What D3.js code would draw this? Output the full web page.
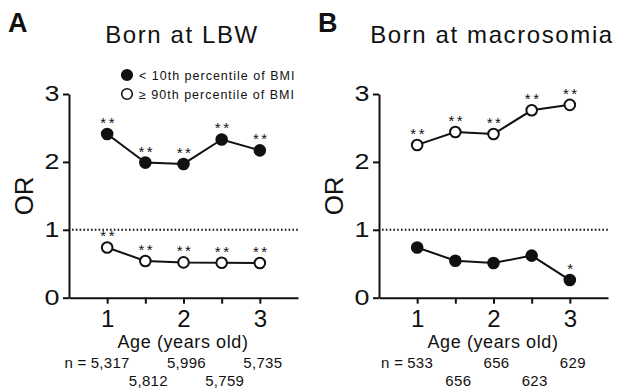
<!DOCTYPE html>
<html>
<head>
<meta charset="utf-8">
<script src="https://cdn.jsdelivr.net/npm/d3@7"></script>
<style>
  body { margin: 0; background: #fff; }
  text { font-family: "Liberation Sans", Arial, sans-serif; fill: #111; }
</style>
</head>
<body>
<svg id="area" width="619" height="389"></svg>
<script>
const ages = [1, 1.5, 2, 2.5, 3];
const ageTicks = [1, 2, 3];
const orTicks = [0, 1, 2, 3];

const lbwLow = [2.41, 1.99, 1.97, 2.33, 2.17];
const lbwHigh = [0.74, 0.54, 0.52, 0.515, 0.51];
const lbwLowSig = ['**', '**', '**', '**', '**'];
const lbwHighSig = ['**', '**', '**', '**', '**'];
const lbwN = ['5,317', '5,812', '5,996', '5,759', '5,735'];

const macroLow = [0.74, 0.545, 0.51, 0.62, 0.26];
const macroHigh = [2.25, 2.44, 2.41, 2.76, 2.84];
const macroLowSig = ['', '', '', '', '*'];
const macroHighSig = ['**', '**', '**', '**', '**'];
const macroN = ['533', '656', '656', '623', '629'];

const legendLabels = ['< 10th percentile of BMI', '\u2265 90th percentile of BMI'];

const svg = d3.select('#area');

function panel(offset, letter, title, low, high, lowSig, highSig, nLabels) {
  const g = svg.append('g').attr('transform', `translate(${offset}, 0)`);
  const x = d3.scaleLinear().domain([0.5, 3.5]).range([69, 298]);
  const y = d3.scaleLinear().domain([0, 3]).range([297.7, 94]);

  g.append('text')
    .attr('x', 8).attr('y', 32)
    .style('font-size', '27px').style('font-weight', 'bold')
    .text(letter);
  g.append('text')
    .attr('x', 182).attr('y', 43)
    .attr('text-anchor', 'middle')
    .style('font-size', '24px').style('letter-spacing', '1.6px')
    .text(title);

  // y axis
  const yAxis = g.append('g')
    .attr('transform', `translate(${x(0.5)}, 0)`)
    .call(d3.axisLeft(y).tickValues(orTicks).tickFormat(d3.format('d'))
      .tickSize(6).tickSizeOuter(0));
  yAxis.selectAll('text')
    .attr('font-family', null)
    .attr('x', -9.5 / 1.25)
    .attr('transform', 'scale(1.25,1)')
    .style('font-size', '21.5px');

  // x axis
  const xAxis = g.append('g')
    .attr('transform', `translate(0, ${y(0)})`)
    .call(d3.axisBottom(x).tickValues(ages).tickSize(6).tickSizeOuter(0)
      .tickFormat((d) => (ageTicks.includes(d) ? d : '')).tickPadding(6));
  xAxis.selectAll('text').style('font-size', '24px').attr('font-family', null);

  g.selectAll('.domain, .tick line').attr('stroke', '#111').attr('stroke-width', 2);

  g.append('text')
    .attr('transform', `translate(33, ${y(1.5)}) rotate(-90)`)
    .attr('text-anchor', 'middle')
    .style('font-size', '26px')
    .text('OR');

  g.append('text')
    .attr('x', 183).attr('y', 348)
    .attr('text-anchor', 'middle')
    .style('font-size', '18px').style('letter-spacing', '0.6px')
    .text('Age (years old)');

  // reference line at OR = 1
  g.append('line')
    .attr('x1', x(0.5) + 3).attr('x2', x(3.5))
    .attr('y1', y(1)).attr('y2', y(1))
    .attr('stroke', '#111').attr('stroke-width', 2)
    .attr('stroke-dasharray', '1.6,2.2');

  // sample sizes
  const nText = g.selectAll('.nlab')
    .data(nLabels)
    .enter().append('text')
    .attr('class', 'nlab')
    .attr('x', (d, i) => x(ages[i]) + 3)
    .attr('y', (d, i) => (i % 2 === 0 ? 368 : 386))
    .attr('text-anchor', 'middle')
    .style('font-size', '15px').style('letter-spacing', '0.3px')
    .text((d) => d);
  const firstW = nText.node().getComputedTextLength();
  g.append('text')
    .attr('x', x(ages[0]) + 3 - firstW / 2 - 4)
    .attr('y', 368)
    .attr('text-anchor', 'end')
    .style('font-size', '15px').style('letter-spacing', '0.3px')
    .text('n =');

  const line = d3.line().x((d, i) => x(ages[i])).y((d) => y(d));
  [[low, '#111', lowSig], [high, '#fff', highSig]].forEach(([vals, fill, sig]) => {
    g.append('path')
      .datum(vals)
      .attr('d', line)
      .attr('fill', 'none').attr('stroke', '#111').attr('stroke-width', 2);
    g.append('g').selectAll('circle')
      .data(vals)
      .enter().append('circle')
      .attr('cx', (d, i) => x(ages[i]))
      .attr('cy', (d) => y(d))
      .attr('r', 5.3)
      .attr('fill', fill).attr('stroke', '#111').attr('stroke-width', 2);
    g.append('g').selectAll('text')
      .data(vals)
      .enter().append('text')
      .attr('x', (d, i) => x(ages[i]) + 1.5)
      .attr('y', (d) => y(d) - 6)
      .attr('text-anchor', 'middle')
      .style('font-size', '15px').style('letter-spacing', '2.5px')
      .text((d, i) => sig[i]);
  });
}

panel(0, 'A', 'Born at LBW', lbwLow, lbwHigh, lbwLowSig, lbwHighSig, lbwN);
panel(310, 'B', 'Born at macrosomia', macroLow, macroHigh, macroLowSig, macroHighSig, macroN);

// legend
const legend = svg.append('g');
legendLabels.forEach((label, i) => {
  legend.append('circle')
    .attr('cx', 127).attr('cy', 75 + i * 19)
    .attr('r', 5.3)
    .attr('fill', i === 0 ? '#111' : '#fff')
    .attr('stroke', '#111').attr('stroke-width', 1.6);
  legend.append('text')
    .attr('x', 139).attr('y', 79.5 + i * 19)
    .style('font-size', '12.5px').style('letter-spacing', '1px')
    .text(label);
});
</script>
</body>
</html>
